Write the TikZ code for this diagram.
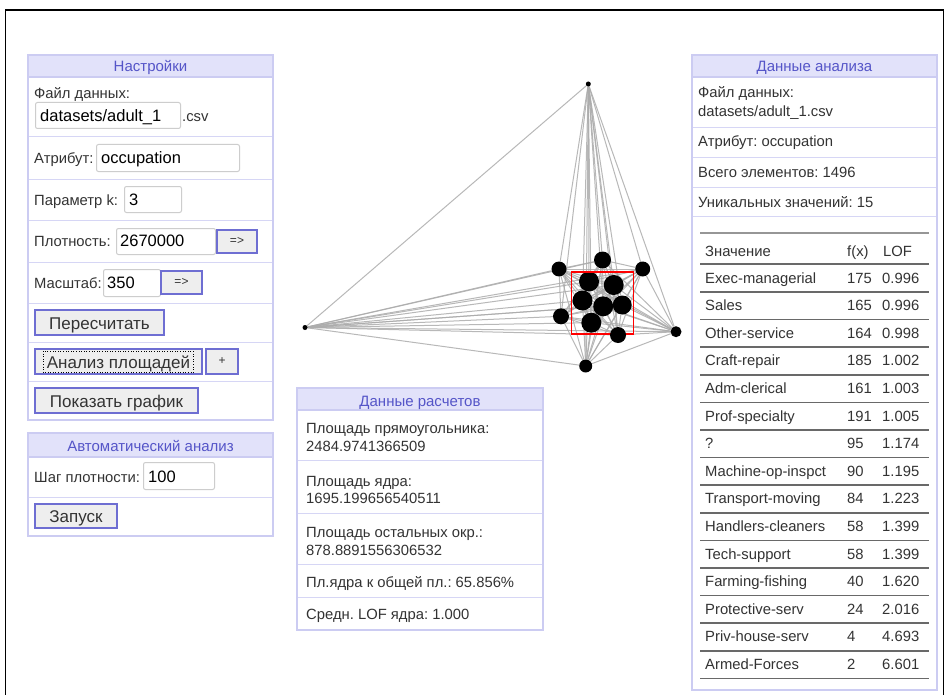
\documentclass[tikz,border=0pt]{standalone}
\usepackage{fontspec}
\setmainfont{Liberation Sans}
\frenchspacing
\usetikzlibrary{backgrounds}
\definecolor{panelborder}{RGB}{204,204,242}
\definecolor{hdrfill}{RGB}{226,226,250}
\definecolor{hdrtext}{RGB}{85,85,200}
\definecolor{sepcol}{RGB}{214,214,245}
\definecolor{lbltext}{RGB}{51,51,51}
\definecolor{inpborder}{RGB}{205,205,205}
\definecolor{btnborder}{RGB}{110,110,210}
\definecolor{btnfill}{RGB}{238,238,238}
\definecolor{edgecol}{RGB}{172,172,172}
\definecolor{tbltop}{RGB}{150,150,150}
\definecolor{tblline}{RGB}{105,105,105}
\tikzset{
  panel/.style={draw=panelborder, line width=1.2pt, fill=white},
  hdr/.style={draw=panelborder, line width=1.2pt, fill=hdrfill},
  hdrlabel/.style={text=hdrtext, font=\fontsize{15pt}{18pt}\selectfont, anchor=base, inner sep=0pt},
  lbl/.style={text=lbltext, font=\fontsize{14.8pt}{17pt}\selectfont, anchor=base west, inner sep=0pt},
  inp/.style={draw=inpborder, fill=white, rounded corners=2pt, line width=1pt, anchor=north west, inner sep=0pt},
  inptext/.style={text=black, font=\fontsize{16.5pt}{19pt}\selectfont, anchor=base west, inner sep=0pt},
  btn/.style={draw=btnborder, fill=btnfill, line width=1.3pt, inner sep=0pt},
  btnlabel/.style={text=lbltext, font=\fontsize{17pt}{20pt}\selectfont, anchor=base, inner sep=0pt},
  smallbtnlabel/.style={text=lbltext, font=\fontsize{12pt}{14pt}\selectfont, inner sep=0pt},
  sep/.style={draw=sepcol, line width=1pt},
  dot/.style={circle, fill=black, inner sep=0pt},
  edge/.style={draw=edgecol, line width=1pt, opacity=0.85},
}
\begin{document}
\begin{tikzpicture}[x=1pt,y=-1pt]
\useasboundingbox (0,0) rectangle (949,695);
% outer frame
\draw[black, line width=1.3pt] (5.5,695) -- (5.5,10) -- (943.5,10) -- (943.5,695);

% ---------- Left panel: Настройки ----------
\draw[panel] (28,55) rectangle (273,420);
\draw[hdr] (28,55) rectangle (273,77);
\node[hdrlabel] (h1) at (150.5,72) {Настройки};
\foreach \yy in {137,179,220,262,303,342,381} \draw[sep] (28.6,\yy) -- (272.4,\yy);

\node[lbl] (l1) at (34,99) {Файл данных:};
\node[inp, minimum width=145pt, minimum height=26pt] (i1) at (35,102) {};
\node[inptext] (i1t) at (40,122) {datasets/adult\_1};
\node[lbl] (l1b) at (182,122) {.csv};

\node[lbl] (l2) at (34,164) {Атрибут:};
\node[inp, minimum width=143pt, minimum height=27pt] (i2) at (96,144) {};
\node[inptext] (i2t) at (101,164) {occupation};

\node[lbl] (l3) at (34,205) {Параметр k:};
\node[inp, minimum width=57pt, minimum height=26pt] (i3) at (124,186) {};
\node[inptext] (i3t) at (129,205) {3};

\node[lbl] (l4) at (34,246) {Плотность:};
\node[inp, minimum width=99pt, minimum height=26pt] (i4) at (116,228) {};
\node[inptext] (i4t) at (120,246) {2670000};
\node[btn, minimum width=40pt, minimum height=23pt] (b4) at (237,241.5) {};
\node[smallbtnlabel] (b4t) at (237,241.5) {=>};

\node[lbl] (l5) at (34,288) {Масштаб:};
\node[inp, minimum width=57pt, minimum height=27pt] (i5) at (103,269) {};
\node[inptext] (i5t) at (107,288) {350};
\node[btn, minimum width=41pt, minimum height=23pt] (b5) at (181.5,282.5) {};
\node[smallbtnlabel] (b5t) at (181.5,282.5) {=>};

\node[btn, minimum width=129pt, minimum height=25pt] (b6) at (99.5,322.5) {};
\node[btnlabel] (b6t) at (99.5,329) {Пересчитать};
\node[btn, minimum width=167pt, minimum height=25pt] (b7) at (118.5,361.5) {};
\node[btnlabel] (b7t) at (118.5,368) {Анализ площадей};
\draw[black, line width=0.6pt, dotted] (43,351) rectangle (193,372.5);
\node[btn, minimum width=32pt, minimum height=25pt] (b7p) at (222,361.5) {};
\node[smallbtnlabel] (b7pt) at (222,361.5) {+};
\node[btn, minimum width=163pt, minimum height=25pt] (b8) at (116.5,400.5) {};
\node[btnlabel] (b8t) at (116.5,407) {Показать график};

% ---------- Left panel 2: Автоматический анализ ----------
\draw[panel] (28,433) rectangle (273,536);
\draw[hdr] (28,433) rectangle (273,457);
\node[hdrlabel] (h2) at (150.5,451) {Автоматический анализ};
\draw[sep] (28.6,497) -- (272.4,497);
\node[lbl] (l9) at (34,482) {Шаг плотности:};
\node[inp, minimum width=71pt, minimum height=27pt] (i9) at (143,462) {};
\node[inptext] (i9t) at (148,482) {100};
\node[btn, minimum width=82pt, minimum height=24pt] (b9) at (76,516) {};
\node[btnlabel] (b9t) at (76,522) {Запуск};

% ---------- Middle panel: Данные расчетов ----------
\draw[panel] (297,388) rectangle (543,630);
\draw[hdr] (297,388) rectangle (543,410);
\node[hdrlabel] (h3) at (420,406) {Данные расчетов};
\foreach \yy in {460,513,564,597} \draw[sep] (297.6,\yy) -- (542.4,\yy);
\node[lbl] (m1) at (306,433) {Площадь прямоугольника:};
\node[lbl] (m1v) at (306,451) {2484.9741366509};
\node[lbl] (m2) at (306,486) {Площадь ядра:};
\node[lbl] (m2v) at (306,503) {1695.199656540511};
\node[lbl] (m3) at (306,537) {Площадь остальных окр.:};
\node[lbl] (m3v) at (306,555) {878.8891556306532};
\node[lbl] (m4) at (306,587) {Пл.ядра к общей пл.: 65.856\%};
\node[lbl] (m5) at (306,619) {Средн. LOF ядра: 1.000};

% ---------- Right panel: Данные анализа ----------
\draw[panel] (692,55) rectangle (937,690);
\draw[hdr] (692,55) rectangle (937,77);
\node[hdrlabel] (h4) at (814.5,72) {Данные анализа};
\foreach \yy in {128,158,187,216} \draw[sep] (692.6,\yy) -- (936.4,\yy);
\node[lbl] (r1) at (698,98) {Файл данных:};
\node[lbl] (r1v) at (698,117) {datasets/adult\_1.csv};
\node[lbl] (r2) at (698,147) {Атрибут: occupation};
\node[lbl] (r3) at (698,177) {Всего элементов: 1496};
\node[lbl] (r4) at (698,207) {Уникальных значений: 15};

\draw[tbltop, line width=2.5pt] (700,233) -- (929,233);
\node[lbl] (th1) at (705,256) {Значение};
\node[lbl] (th2) at (847,256) {f(x)};
\node[lbl] (th3) at (883,256) {LOF};
\draw[tblline, line width=1.6pt] (700,264) -- (929,264);
\foreach \nm/\fx/\lof [count=\k from 0] in {
  Exec-managerial/175/0.996, Sales/165/0.996, Other-service/164/0.998,
  Craft-repair/185/1.002, Adm-clerical/161/1.003, Prof-specialty/191/1.005,
  ?/95/1.174, Machine-op-inspct/90/1.195, Transport-moving/84/1.223,
  Handlers-cleaners/58/1.399, Tech-support/58/1.399, Farming-fishing/40/1.620,
  Protective-serv/24/2.016, Priv-house-serv/4/4.693, Armed-Forces/2/6.601}{
  \pgfmathsetmacro\yb{283+27.6*\k}
  \pgfmathsetmacro\yl{292+27.6*\k}
  \node[lbl] (ta\k) at (705,\yb) {\nm};
  \node[lbl] (tb\k) at (847,\yb) {\fx};
  \node[lbl] (tc\k) at (882,\yb) {\lof};
  \draw[tblline, line width=1.6pt] (700,\yl) -- (929,\yl);
}

% ---------- Graph ----------
\foreach \n/\x/\y/\r in {
  1/588.3/84/2.5, 2/305/327.5/2.5, 3/676/331.7/5.5, 4/585.7/366/6.5,
  5/559/269/7.5, 6/602.5/260/8.5, 7/642.7/269/7.5, 8/589/281.5/10,
  9/613.7/285/10, 10/582.5/300.5/10, 11/603.2/306.3/10, 12/622.2/305/9.5,
  13/561/316.3/8, 14/591.3/322.7/10}{
  \node[dot, minimum size=2*\r pt] (g\n) at (\x,\y) {};
}
\draw[red, line width=1.3pt] (571.7,272) rectangle (633.3,334);
\node[dot, minimum size=16pt] (g15) at (618,335) {};
\begin{scope}[on background layer]
\fill[white] (0,0) rectangle (949,695);
\foreach \i in {1,...,14}{
  \pgfmathtruncatemacro\s{\i+1}
  \foreach \j in {\s,...,15}{ \draw[edge] (g\i) -- (g\j); }
}
\end{scope}
\end{tikzpicture}
\end{document}
